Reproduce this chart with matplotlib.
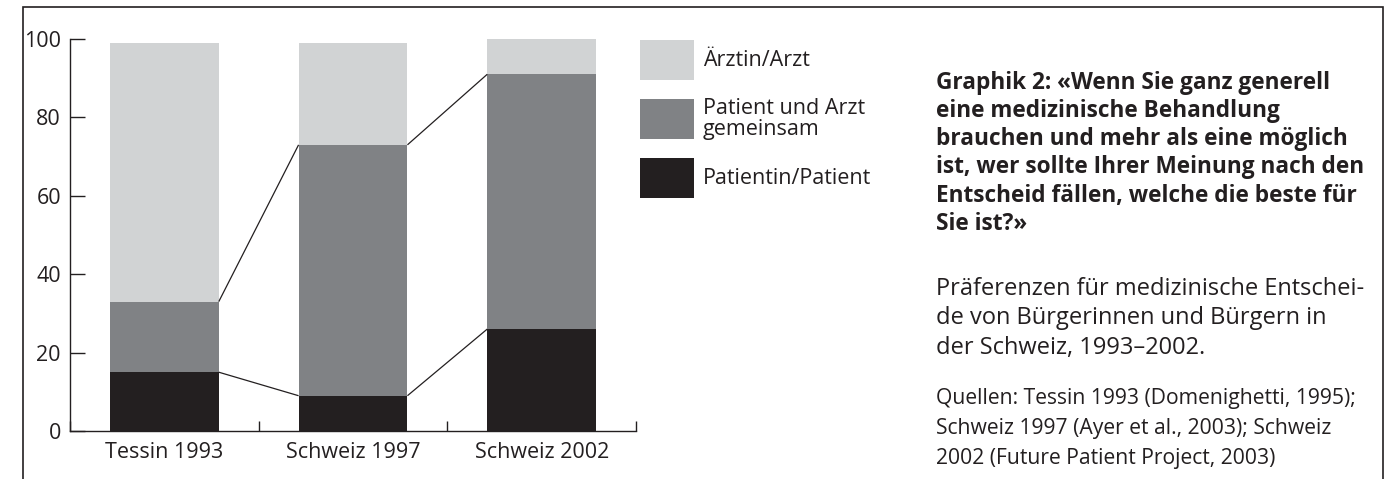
import numpy as np
import matplotlib.pyplot as plt
from matplotlib.patches import Rectangle

# =========================
# Data (percent of answers)
# =========================
categories = ["Tessin 1993", "Schweiz 1997", "Schweiz 2002"]
patient = [15, 9, 26]
gemeinsam = [18, 64, 65]
arzt = [66, 26, 9]

series_labels = ["Patientin/Patient", "Patient und Arzt\ngemeinsam", "Ärztin/Arzt"]
series_colors = ["#231f20", "#808285", "#d1d3d4"]

title_text = ("Graphik 2: «Wenn Sie ganz generell\n"
              "eine medizinische Behandlung\n"
              "brauchen und mehr als eine möglich\n"
              "ist, wer sollte Ihrer Meinung nach den\n"
              "Entscheid fällen, welche die beste für\n"
              "Sie ist?»")
body_text = ("Präferenzen für medizinische Entschei-\n"
             "de von Bürgerinnen und Bürgern in\n"
             "der Schweiz, 1993–2002.")
source_text = ("Quellen: Tessin 1993 (Domenighetti, 1995);\n"
               "Schweiz 1997 (Ayer et al., 2003); Schweiz\n"
               "2002 (Future Patient Project, 2003)")

# =========================
# Figure
# =========================
plt.rcParams['font.family'] = ['Open Sans', 'DejaVu Sans']
W, H = 1400, 479
ink = "#231f20"
fig = plt.figure(figsize=(W / 100, H / 100), dpi=100)

ax = fig.add_axes([70 / W, 48 / H, 566 / W, 392 / H])

x = np.arange(len(categories))
width = 0.577
bottoms = np.zeros(len(categories))
for vals, color in zip([patient, gemeinsam, arzt], series_colors):
    ax.bar(x, vals, width=width, bottom=bottoms, color=color, linewidth=0)
    bottoms = bottoms + np.array(vals)

# connector lines between the segment tops
for level in [np.array(patient), np.array(patient) + np.array(gemeinsam)]:
    for i in range(len(categories) - 1):
        ax.plot([x[i] + width / 2, x[i + 1] - width / 2], [level[i], level[i + 1]],
                color=ink, lw=0.9, solid_capstyle="butt")

ax.set_xlim(-0.5, len(categories) - 0.5)
ax.set_ylim(0, 100)
ax.set_yticks(np.arange(0, 101, 20))
ax.set_xticks(x)
ax.set_xticklabels(categories)
ax.set_xticks(np.arange(-0.5, len(categories), 1), minor=True)

for side in ["top", "right"]:
    ax.spines[side].set_visible(False)
for side in ["left", "bottom"]:
    ax.spines[side].set_linewidth(1.0)
    ax.spines[side].set_color(ink)

ax.tick_params(axis="y", direction="in", length=11, width=1.0, pad=6.5,
               labelsize=15.5, colors=ink)
ax.tick_params(axis="x", which="major", length=0, pad=8, labelsize=15.5,
               colors=ink)
ax.tick_params(axis="x", which="minor", direction="in", length=7, width=1.0,
               color=ink)

# legend drawn by hand: top entry first
for i, (label, color) in enumerate(zip(series_labels[::-1], series_colors[::-1])):
    top = 40 + i * 59
    fig.add_artist(Rectangle((640 / W, 1 - (top + 40) / H), 54 / W, 40 / H,
                             transform=fig.transFigure, facecolor=color,
                             edgecolor="none"))
    fig.text(703 / W, 1 - (top + 20) / H, label, fontsize=15.5, va="center",
             ha="left", linespacing=0.97, color=ink)

# text block on the right
fig.text(936 / W, 1 - 71 / H, title_text, fontsize=16.3, fontweight="bold",
         va="top", ha="left", linespacing=1.23, color=ink)
fig.text(936 / W, 1 - 277 / H, body_text, fontsize=17.0, va="top", ha="left",
         linespacing=1.3, color=ink)
fig.text(936 / W, 1 - 388 / H, source_text, fontsize=15.2, va="top", ha="left",
         linespacing=1.55, color=ink)

# frame around the figure (open at the bottom)
fig.add_artist(Rectangle((23 / W, -0.05), 1360 / W, 1.05 - 7 / H,
                         transform=fig.transFigure, fill=False,
                         edgecolor=ink, lw=1.2))

fig.savefig("out.png", dpi=100)
